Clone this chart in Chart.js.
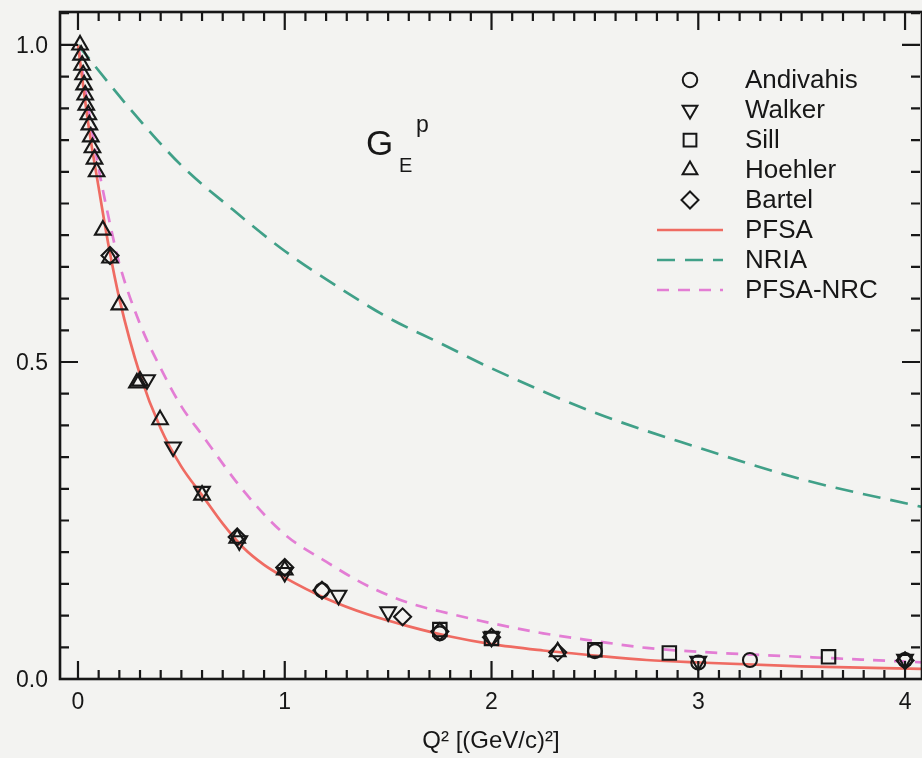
<!DOCTYPE html>
<html>
<head>
<meta charset="utf-8">
<title>G_E^p form factor</title>
<script src="https://cdn.jsdelivr.net/npm/chart.js@4.4.1/dist/chart.umd.min.js"></script>
<style>
    html, body { margin: 0; padding: 0; background: #f3f3f1; overflow: hidden; }
    #wrap { width: 922px; height: 758px; }
</style>
</head>
<body>
<div id="wrap"><canvas id="geChart" width="922" height="758"></canvas></div>
<script>
// Measured proton electric form factor, Q^2 in (GeV/c)^2
var andivahisQ = [1.18, 1.75, 2.5, 3.0, 3.25, 4.0];
var andivahisG = [0.140, 0.072, 0.044, 0.026, 0.030, 0.030];

var walkerQ = [0.334, 0.46, 0.6, 0.78, 1.0, 1.26, 1.5, 2.0, 3.0, 4.0];
var walkerG = [0.472, 0.366, 0.296, 0.218, 0.168, 0.132, 0.106, 0.066, 0.028, 0.031];

var sillQ = [1.75, 2.0, 2.5, 2.86, 3.63];
var sillG = [0.078, 0.064, 0.046, 0.041, 0.035];

var hoehlerQ = [0.01, 0.015, 0.02, 0.025, 0.03, 0.035, 0.04, 0.05, 0.055, 0.062, 0.07, 0.08, 0.09,
                0.12, 0.155, 0.2, 0.285, 0.3, 0.397, 0.6, 0.77, 1.0, 2.32];
var hoehlerG = [1.0, 0.984, 0.968, 0.953, 0.937, 0.921, 0.905, 0.89, 0.874, 0.855, 0.838, 0.82, 0.80,
                0.708, 0.664, 0.59, 0.467, 0.47, 0.409, 0.29, 0.222, 0.172, 0.043];

var bartelQ = [0.155, 0.77, 1.0, 1.18, 1.57, 1.75, 2.0, 2.32, 4.0];
var bartelG = [0.668, 0.224, 0.176, 0.140, 0.098, 0.075, 0.066, 0.042, 0.029];

// Model curves
var pfsaQ = [0, 0.05, 0.1, 0.15, 0.2, 0.3, 0.4, 0.5, 0.6, 0.7, 0.8, 0.9, 1.0, 1.2, 1.4, 1.6, 1.8, 2.0, 2.25, 2.5, 2.75, 3.0, 3.5, 4.1];
var pfsaG = [1.0, 0.875, 0.775, 0.68, 0.60, 0.48, 0.395, 0.335, 0.29, 0.245, 0.207, 0.18, 0.16, 0.127, 0.102, 0.083, 0.067, 0.055, 0.045, 0.037, 0.030, 0.026, 0.020, 0.016];

var nriaQ = [0, 0.25, 0.5, 0.75, 1.0, 1.25, 1.5, 1.75, 2.0, 2.5, 3.0, 3.5, 4.1];
var nriaG = [1.0, 0.90, 0.81, 0.74, 0.675, 0.62, 0.57, 0.53, 0.49, 0.42, 0.365, 0.315, 0.27];

var nrcQ = [0, 0.05, 0.1, 0.15, 0.2, 0.3, 0.4, 0.5, 0.6, 0.8, 1.0, 1.2, 1.4, 1.6, 1.8, 2.0, 2.25, 2.5, 2.75, 3.0, 3.5, 4.1];
var nrcG = [1.0, 0.90, 0.805, 0.725, 0.655, 0.56, 0.49, 0.43, 0.385, 0.297, 0.228, 0.185, 0.147, 0.12, 0.103, 0.088, 0.072, 0.06, 0.049, 0.043, 0.035, 0.026];

// Axis ticks
var xMajor = [0, 1, 2, 3, 4];
var xLabels = ['0', '1', '2', '3', '4'];
var yMajor = [0, 0.5, 1.0];
var yLabels = ['0.0', '0.5', '1.0'];

var ink = '#171717';
var font = '"Liberation Sans", Arial, Helvetica, sans-serif';

function pts(qs, gs) {
    return qs.map(function(q, i) { return { x: q, y: gs[i] }; });
}

function markerSet(label, qs, gs, style, radius, rotation) {
    return {
        label: label,
        data: pts(qs, gs),
        showLine: false,
        pointStyle: style,
        pointRotation: rotation || 0,
        pointRadius: radius,
        pointHoverRadius: radius,
        pointBorderColor: ink,
        pointBackgroundColor: 'rgba(0,0,0,0)',
        pointBorderWidth: 2.1,
        order: 0
    };
}

function curveSet(label, qs, gs, color, dash) {
    return {
        label: label,
        data: pts(qs, gs),
        showLine: true,
        borderColor: color,
        borderWidth: 2.7,
        borderDash: dash,
        pointRadius: 0,
        cubicInterpolationMode: 'monotone',
        fill: false,
        order: 1
    };
}

// Background fill for the whole canvas
var paper = {
    id: 'paper',
    beforeDraw: function(chart) {
        var ctx = chart.ctx;
        ctx.save();
        ctx.fillStyle = '#f3f3f1';
        ctx.fillRect(0, 0, chart.width, chart.height);
        ctx.restore();
    }
};

// Frame with inward ticks on all four sides
var frameTicks = {
    id: 'frameTicks',
    afterDraw: function(chart) {
        var ctx = chart.ctx, a = chart.chartArea;
        var xs = chart.scales.x, ys = chart.scales.y;
        ctx.save();
        ctx.strokeStyle = ink;
        ctx.lineWidth = 2.2;
        ctx.beginPath();
        for (var i = 0; i <= 41; i++) {
            var px = xs.getPixelForValue(i / 10);
            if (px < a.left || px > a.right) continue;
            var len = (i % 10 === 0) ? 18 : 9;
            ctx.moveTo(px, a.bottom); ctx.lineTo(px, a.bottom - len);
            ctx.moveTo(px, a.top); ctx.lineTo(px, a.top + len);
        }
        for (var j = 0; j <= 21; j++) {
            var py = ys.getPixelForValue(j * 0.05);
            if (py < a.top || py > a.bottom) continue;
            var l2 = (j % 10 === 0) ? 18 : 9;
            ctx.moveTo(a.left, py); ctx.lineTo(a.left + l2, py);
            ctx.moveTo(a.right - 2, py); ctx.lineTo(a.right - 2 - l2, py);
        }
        ctx.stroke();
        ctx.lineWidth = 2.6;
        ctx.strokeRect(a.left, a.top, a.right - a.left, a.bottom - a.top);
        ctx.restore();
    }
};

function drawMarker(ctx, style, x, y, r) {
    ctx.beginPath();
    if (style === 'circle') {
        ctx.arc(x, y, r * 0.85, 0, Math.PI * 2);
    } else if (style === 'triangleDown') {
        ctx.moveTo(x - r * 0.87, y - r * 0.5);
        ctx.lineTo(x + r * 0.87, y - r * 0.5);
        ctx.lineTo(x, y + r);
        ctx.closePath();
    } else if (style === 'triangle') {
        ctx.moveTo(x - r * 0.87, y + r * 0.5);
        ctx.lineTo(x + r * 0.87, y + r * 0.5);
        ctx.lineTo(x, y - r);
        ctx.closePath();
    } else if (style === 'rect') {
        ctx.rect(x - r * 0.75, y - r * 0.75, r * 1.5, r * 1.5);
    } else if (style === 'diamond') {
        ctx.moveTo(x, y - r);
        ctx.lineTo(x + r, y);
        ctx.lineTo(x, y + r);
        ctx.lineTo(x - r, y);
        ctx.closePath();
    }
    ctx.stroke();
}

// Legend inside the plot, top right, plus the G_E^p tag
var insideLegend = {
    id: 'insideLegend',
    afterDraw: function(chart) {
        var ctx = chart.ctx;
        var shapes = ['circle', 'triangleDown', 'rect', 'triangle', 'diamond'];
        ctx.save();
        ctx.font = '26px ' + font;
        ctx.textBaseline = 'middle';
        chart.data.datasets.forEach(function(ds, i) {
            var y = 80 + i * 30;
            if (ds.showLine) {
                ctx.strokeStyle = ds.borderColor;
                ctx.lineWidth = 2.7;
                ctx.setLineDash(ds.borderDash || []);
                ctx.beginPath();
                ctx.moveTo(657, y);
                ctx.lineTo(723, y);
                ctx.stroke();
                ctx.setLineDash([]);
            } else {
                ctx.strokeStyle = ink;
                ctx.lineWidth = 2;
                drawMarker(ctx, shapes[i], 690, y, 8.5);
            }
            ctx.fillStyle = ink;
            ctx.fillText(ds.label, 745, y + 1);
        });

        ctx.textBaseline = 'alphabetic';
        ctx.font = '35px ' + font;
        ctx.fillText('G', 366, 155);
        ctx.font = '20px ' + font;
        ctx.fillText('E', 399, 172);
        ctx.font = '23px ' + font;
        ctx.fillText('p', 416, 132);
        ctx.restore();
    }
};

var ctx = document.getElementById('geChart').getContext('2d');
var geChart = new Chart(ctx, {
    type: 'scatter',
    data: {
        datasets: [
            markerSet('Andivahis', andivahisQ, andivahisG, 'circle', 7),
            markerSet('Walker', walkerQ, walkerG, 'triangle', 9, 180),
            markerSet('Sill', sillQ, sillG, 'rect', 9.5),
            markerSet('Hoehler', hoehlerQ, hoehlerG, 'triangle', 9),
            markerSet('Bartel', bartelQ, bartelG, 'rectRot', 8.5),
            curveSet('PFSA', pfsaQ, pfsaG, '#ef6b62', []),
            curveSet('NRIA', nriaQ, nriaG, '#40a088', [18, 10]),
            curveSet('PFSA-NRC', nrcQ, nrcG, '#e37dd4', [12, 9])
        ]
    },
    options: {
        responsive: false,
        animation: false,
        layout: { autoPadding: false, padding: { top: 12, right: 0, left: 0, bottom: 0 } },
        plugins: {
            legend: { display: false },
            tooltip: { enabled: false }
        },
        scales: {
            x: {
                type: 'linear',
                min: -0.087,
                max: 4.082,
                afterFit: function(s) {
                    s.height = 79;
                    s.paddingLeft = 0;
                    s.paddingRight = 0;
                },
                afterBuildTicks: function(s) {
                    s.ticks = xMajor.map(function(v) { return { value: v }; });
                },
                grid: { display: false, drawTicks: false },
                border: { display: false },
                ticks: {
                    padding: 10,
                    color: ink,
                    font: { family: font, size: 23 },
                    maxRotation: 0,
                    autoSkip: false,
                    callback: function(v) { return xLabels[xMajor.indexOf(v)]; }
                },
                title: {
                    display: true,
                    text: 'Q² [(GeV/c)²]',
                    color: ink,
                    font: { family: font, size: 24 },
                    padding: { top: 0, bottom: 2 }
                }
            },
            y: {
                type: 'linear',
                min: 0,
                max: 1.052,
                afterFit: function(s) {
                    s.width = 60;
                    s.paddingTop = 0;
                    s.paddingBottom = 0;
                },
                afterBuildTicks: function(s) {
                    s.ticks = yMajor.map(function(v) { return { value: v }; });
                },
                grid: { display: false, drawTicks: false },
                border: { display: false },
                ticks: {
                    padding: 12,
                    labelOffset: 2,
                    color: ink,
                    font: { family: font, size: 23 },
                    autoSkip: false,
                    callback: function(v) { return yLabels[yMajor.indexOf(v)]; }
                }
            }
        }
    },
    plugins: [paper, frameTicks, insideLegend]
});
</script>
</body>
</html>
